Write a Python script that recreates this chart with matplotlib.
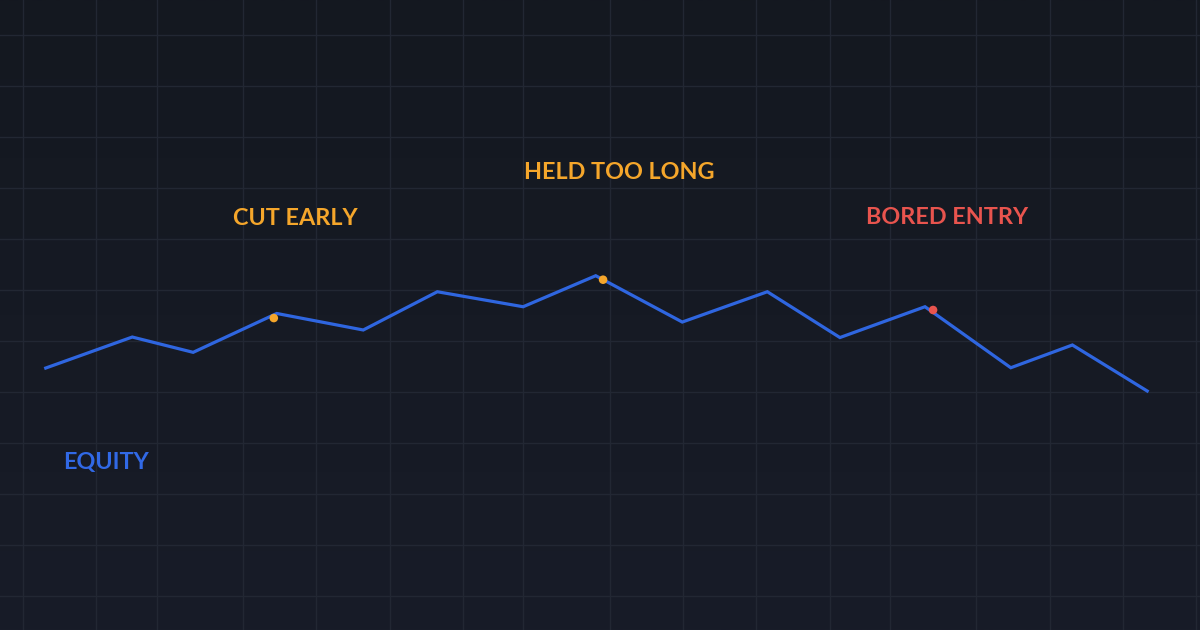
import numpy as np
import matplotlib.pyplot as plt
from matplotlib.colors import LinearSegmentedColormap

# equity curve (time units, equity value)
t = [0.31, 1.49, 2.32, 3.46, 4.64, 5.65, 6.82, 7.81, 8.99, 10.15, 11.14, 12.30, 13.47, 14.31, 15.33]
equity = [102.35, 105.39, 103.89, 107.70, 106.08, 109.83, 108.36, 111.40, 106.86, 109.83, 105.34, 108.36, 102.38, 104.61, 100.10]

# mistake markers
mark_t = [3.42, 7.91, 12.41]
mark_v = [107.25, 111.01, 108.04]
mark_colors = ['#f5a62b', '#f5a62b', '#e8544e']

# labels
labels = ['CUT EARLY', 'HELD TOO LONG', 'BORED ENTRY']
label_t = [3.72, 8.13, 12.60]
label_v = [117.05, 121.52, 117.10]
label_colors = ['#f5a62b', '#f5a62b', '#e8544e']

grid_x = [0, 1, 1.83, 3, 4, 5, 6, 6.82, 8, 9, 10, 11, 11.82, 13, 14, 15, 16]
grid_y = np.arange(80, 136, 5)

bg = '#161a24'
blue = '#2f66e0'

fig = plt.figure(figsize=(12, 6.3), dpi=100)
fig.patch.set_facecolor(bg)
ax = fig.add_axes([0, 0, 1, 1])
ax.set_facecolor(bg)

xmin, xmax = -0.3137, 16.05
ymin, ymax = 76.67, 138.43

# subtle vertical gradient
grad = np.linspace(0, 1, 256).reshape(-1, 1)
cmap = LinearSegmentedColormap.from_list('bg', ['#181c28', '#141820'])
ax.imshow(grad, extent=[xmin, xmax, ymax, ymin], cmap=cmap, aspect='auto', zorder=0)

for gx in grid_x:
    ax.axvline(gx, color='#222733', lw=1, zorder=1)
for gy in grid_y:
    ax.axhline(gy, color='#222733', lw=1, zorder=1)

ax.plot(t, equity, color=blue, lw=2.3, solid_joinstyle='miter', zorder=3)
ax.scatter(mark_t, mark_v, s=38, c=mark_colors, zorder=4, linewidths=0)

for txt, x, y, c in zip(labels, label_t, label_v, label_colors):
    ax.text(x, y, txt, color=c, fontsize=16.8, fontweight='bold', family='Lato',
            ha='center', va='center', zorder=5)
ax.text(0.545, 93.1, 'EQUITY', color='#3169e6', fontsize=16.8, fontweight='bold',
        family='Lato', ha='left', va='center', zorder=5)

ax.set_xlim(xmin, xmax)
ax.set_ylim(ymin, ymax)
ax.axis('off')

fig.savefig('out.png', dpi=100, facecolor=bg)
